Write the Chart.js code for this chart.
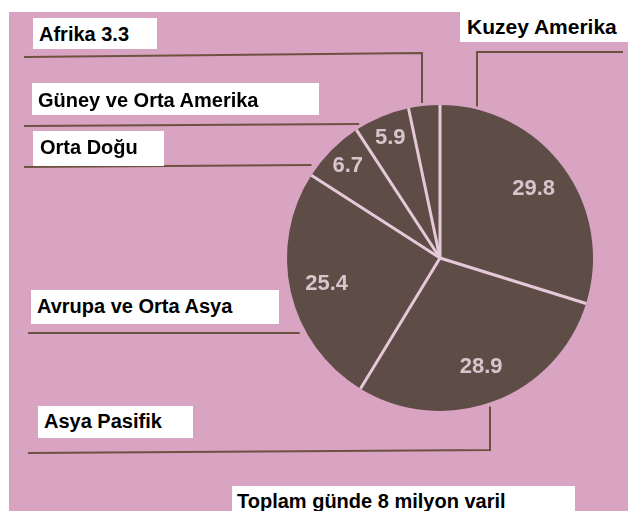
<!DOCTYPE html>
<html>
<head>
<meta charset="utf-8">
<script src="https://cdn.jsdelivr.net/npm/chart.js"></script>
<style>
  body { margin: 0; background: #fff; }
  #wrap { position: relative; width: 628px; height: 511px; overflow: hidden; }
  canvas { position: absolute; left: 0; top: 0; }
  .box { position: absolute; background: #fff; }
  .box span {
    position: absolute; white-space: nowrap;
    font: bold 20px "Liberation Sans", Arial, sans-serif;
    line-height: 20px; color: #000;
  }
</style>
</head>
<body>
<div id="wrap">
  <canvas id="pie" width="628" height="511"></canvas>
  <div class="box" style="left:33px;top:18px;width:124px;height:31px"><span style="left:6px;top:6px">Afrika 3.3</span></div>
  <div class="box" style="left:460px;top:0px;width:168px;height:42px"><span style="left:7px;top:17px;font-size:21px">Kuzey Amerika</span></div>
  <div class="box" style="left:32px;top:83px;width:287px;height:32px"><span style="left:6px;top:7px">Güney ve Orta Amerika</span></div>
  <div class="box" style="left:33px;top:131px;width:131px;height:35px"><span style="left:7px;top:6px">Orta Doğu</span></div>
  <div class="box" style="left:31px;top:290px;width:248px;height:34px"><span style="left:6px;top:6px">Avrupa ve Orta Asya</span></div>
  <div class="box" style="left:38px;top:406px;width:155px;height:32px"><span style="left:6px;top:5px">Asya Pasifik</span></div>
  <div class="box" style="left:232px;top:486px;width:343px;height:30px"><span style="left:5px;top:5px">Toplam günde 8 milyon varil</span></div>
</div>
<script>
// pay (%), saat yonunde tepeden baslayarak
const regions = ["Kuzey Amerika", "Asya Pasifik", "Avrupa ve Orta Asya", "Orta Doğu", "Güney ve Orta Amerika", "Afrika"];
const shares = [29.8, 28.9, 25.4, 6.7, 5.9, 3.3];
const insideLabels = ["29.8", "28.9", "25.4", "6.7", "5.9", ""];

// etiket kutularindan dilimlere giden cizgiler
const leaders = [
  { x1: 24, y1: 57, y2: 53, down: 422 },   // Afrika
  { x1: 623, y1: 52, y2: 52, down: 477 },  // Kuzey Amerika
  { x1: 24, y1: 126, y2: 124 },            // Guney ve Orta Amerika
  { x1: 24, y1: 167, y2: 165 },            // Orta Dogu
  { x1: 28, y1: 333, y2: 333 },            // Avrupa ve Orta Asya
  { x1: 28, y1: 453, y2: 450, up: 490 }    // Asya Pasifik
];

const decor = {
  id: "decor",
  beforeDraw(chart) {
    const ctx = chart.ctx;
    ctx.save();
    ctx.fillStyle = "#d9a3c2";
    ctx.fillRect(9, 12, 628, 511);
    ctx.restore();
  },
  afterDatasetsDraw(chart) {
    const ctx = chart.ctx;
    const arcs = chart.getDatasetMeta(0).data;
    const cx = arcs[0].x, cy = arcs[0].y, r = arcs[0].outerRadius;
    ctx.save();

    // dilim ayiraclari (dis kenarda cizgi yok)
    ctx.strokeStyle = "#e6c9d8";
    ctx.lineWidth = 3;
    arcs.forEach((a) => {
      ctx.beginPath();
      ctx.moveTo(cx, cy);
      ctx.lineTo(cx + Math.cos(a.startAngle) * r, cy + Math.sin(a.startAngle) * r);
      ctx.stroke();
    });

    ctx.strokeStyle = "#6e5240";
    ctx.lineWidth = 2;
    leaders.forEach((l) => {
      ctx.beginPath();
      ctx.moveTo(l.x1, l.y1);
      if (l.down !== undefined) {
        ctx.lineTo(l.down, l.y2);
        const dx = l.down - cx;
        ctx.lineTo(l.down, cy - Math.sqrt(r * r - dx * dx) - 3);
      } else if (l.up !== undefined) {
        ctx.lineTo(l.up, l.y2);
        const dx = l.up - cx;
        ctx.lineTo(l.up, cy + Math.sqrt(r * r - dx * dx) + 4);
      } else {
        const dy = l.y2 - cy;
        ctx.lineTo(cx - Math.sqrt(r * r - dy * dy) - 7, l.y2);
      }
      ctx.stroke();
    });

    // dilim icindeki degerler
    ctx.fillStyle = "#d8c4cc";
    ctx.font = 'bold 22px "Liberation Sans", Arial, sans-serif';
    ctx.textAlign = "center";
    ctx.textBaseline = "middle";
    arcs.forEach((a, i) => {
      if (!insideLabels[i]) return;
      const mid = (a.startAngle + a.endAngle) / 2;
      const k = shares[i] > 10 ? 0.76 : 0.85;
      ctx.fillText(insideLabels[i], cx + Math.cos(mid) * r * k, cy + Math.sin(mid) * r * k);
    });
    ctx.restore();
  }
};

new Chart(document.getElementById("pie"), {
  type: "pie",
  data: {
    labels: regions,
    datasets: [{
      data: shares,
      backgroundColor: "#5e4d46",
      borderWidth: 0,
      radius: 153
    }]
  },
  options: {
    responsive: false,
    animation: false,
    layout: { padding: { left: 280, right: 28, top: 60, bottom: 55 } },
    plugins: { legend: { display: false }, tooltip: { enabled: false } }
  },
  plugins: [decor]
});
</script>
</body>
</html>
